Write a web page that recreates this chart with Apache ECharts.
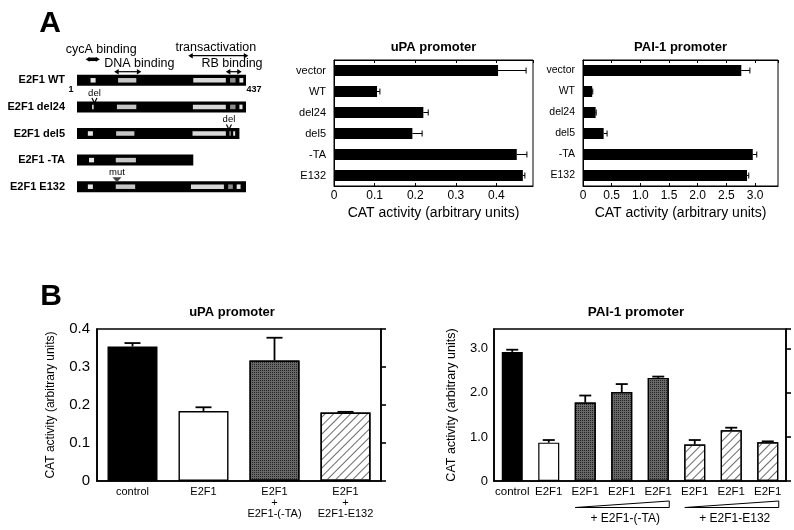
<!DOCTYPE html>
<html><head><meta charset="utf-8">
<script src="https://cdn.jsdelivr.net/npm/echarts@6/dist/echarts.min.js"></script>
<style>html,body{margin:0;padding:0;background:#fff}#c{width:794px;height:530px}</style>
</head><body><div id="c"></div>
<script>
const FONT = '"Liberation Sans", Arial, Helvetica, sans-serif';

// ---------- Panel A: construct schematic (amino-acid positions) ----------
const constructs = ['E2F1 WT', 'E2F1 del24', 'E2F1 del5', 'E2F1 -TA', 'E2F1 E132'];
const constructLength = [437, 437, 420, 301, 437];
const domainWT    = [[36, 49], [107, 154], [301, 385], [396, 410], [420, 430]];
const domainDel24 = [[40, 44], [104, 154], [300, 385], [396, 410], [420, 428]];
const domainDel5  = [[29, 42], [102, 149], [299, 385], [394, 398], [404, 409]];
const domainTA    = [[32, 45], [101, 153]];
const domainE132  = [[29, 42], [101, 151], [295, 380], [391, 403], [413, 423]];
const regionNames = ['cycA binding', 'DNA binding', 'transactivation', 'RB binding'];
const regionSpans = [[23, 60], [97, 167], [288, 443], [385, 426]];
const siteLabels = ['del', 'del', 'mut'];
const siteRows = [1, 2, 4];
const siteAA = [46, 393, 104];

// ---------- Panel A: CAT activity ----------
const aCategories = ['vector', 'WT', 'del24', 'del5', '-TA', 'E132'];
const aUpaValues = [0.404, 0.106, 0.220, 0.193, 0.450, 0.465];
const aUpaErrors = [0.069, 0.007, 0.012, 0.024, 0.025, 0.005];
const aPaiValues = [2.76, 0.16, 0.22, 0.36, 2.96, 2.86];
const aPaiErrors = [0.15, 0.01, 0.01, 0.06, 0.07, 0.03];

// ---------- Panel B ----------
const bUpaCategories = ['control', 'E2F1', 'E2F1\n+\nE2F1-(-TA)', 'E2F1\n+\nE2F1-E132'];
const bUpaValues = [0.354, 0.184, 0.317, 0.180];
const bUpaErrors = [0.009, 0.010, 0.060, 0.002];
const bPaiCategories = ['control', 'E2F1', 'E2F1', 'E2F1', 'E2F1', 'E2F1', 'E2F1', 'E2F1'];
const bPaiValues = [2.93, 0.87, 1.78, 2.02, 2.34, 0.83, 1.15, 0.88];
const bPaiErrors = [0.05, 0.06, 0.16, 0.18, 0.03, 0.10, 0.06, 0.02];
const bUpaKinds = ['solid', 'open', 'stipple', 'hatch'];
const bPaiKinds = ['solid', 'open', 'stipple', 'stipple', 'stipple', 'hatch', 'hatch', 'hatch'];
const bPaiGroupLabels = ['+ E2F1-(-TA)', '+ E2F1-E132'];
const bPaiGroupRange = [[2, 4], [5, 7]];

// ---------- styles ----------
const stippleDecal = {symbol: 'rect', symbolSize: 1, dashArrayX: [1, 1], dashArrayY: [1, 1], color: '#222'};
const hatchDecal = {symbol: 'rect', symbolSize: 1, dashArrayX: [1, 0], dashArrayY: [1, 5], rotation: -Math.PI / 4, color: '#6a6a6a'};
function barStyle(kind, bw) {
  const s = {borderColor: '#000', borderWidth: bw};
  if (kind === 'solid') s.color = '#000';
  else if (kind === 'open') s.color = '#fff';
  else if (kind === 'stipple') { s.color = '#686868'; s.decal = stippleDecal; }
  else { s.color = '#fff'; s.decal = hatchDecal; }
  return s;
}
const kindFill = ['#e6e6e6', '#c6c6c6', '#d8d8d8', '#8c8c8c', '#e6e6e6'];
function fmt(v) { return v === 0 ? '0' : v.toFixed(1); }

const domainSets = [domainWT, domainDel24, domainDel5, domainTA, domainE132];
const schematicData = [];
constructs.forEach((c, i) => {
  schematicData.push([i, 1, constructLength[i], -1]);
  domainSets[i].forEach((d, k) => schematicData.push([i, d[0], d[1], k]));
});

function schematicItem(params, api) {
  const row = api.value(0), s = api.value(1), e = api.value(2), k = api.value(3);
  const p0 = api.coord([s, row]), p1 = api.coord([e, row]);
  const h = k < 0 ? 11 : 4.5;
  return {type: 'rect', shape: {x: p0[0], y: p0[1] - h / 2, width: p1[0] - p0[0], height: h},
    style: {fill: k < 0 ? '#000' : kindFill[k]}};
}
function hErr(cap) {
  return function (params, api) {
    const v = api.value(0), i = api.value(1), e = api.value(2);
    const p0 = api.coord([v, i]), p1 = api.coord([v + e, i]);
    return {type: 'group', children: [
      {type: 'line', shape: {x1: p0[0], y1: p0[1], x2: p1[0], y2: p1[1]}, style: {stroke: '#000', lineWidth: 1}},
      {type: 'line', shape: {x1: p1[0], y1: p1[1] - cap, x2: p1[0], y2: p1[1] + cap}, style: {stroke: '#000', lineWidth: 1}}
    ]};
  };
}
function vErr(cap, lw) {
  return function (params, api) {
    const i = api.value(0), v = api.value(1), e = api.value(2);
    const p0 = api.coord([i, v]), p1 = api.coord([i, v + e]);
    return {type: 'group', children: [
      {type: 'line', shape: {x1: p0[0], y1: p0[1], x2: p1[0], y2: p1[1]}, style: {stroke: '#000', lineWidth: lw}},
      {type: 'line', shape: {x1: p1[0] - cap, y1: p1[1], x2: p1[0] + cap, y2: p1[1]}, style: {stroke: '#000', lineWidth: lw}}
    ]};
  };
}

const chart = echarts.init(document.getElementById('c'), null, {renderer: 'canvas', width: 794, height: 530});
const line1 = {show: true, lineStyle: {color: '#000', width: 1}};
const line2 = {show: true, lineStyle: {color: '#000', width: 1.6}};
const noLab = {show: false};

const option = {
  animation: false,
  backgroundColor: '#fff',
  textStyle: {fontFamily: FONT, color: '#000'},
  grid: [
    {left: 77, top: 67, width: 169, height: 133},
    {left: 334, top: 60, width: 199, height: 126, show: true, borderColor: '#000', borderWidth: 1, backgroundColor: 'transparent'},
    {left: 583, top: 60, width: 195, height: 126, show: true, borderColor: '#000', borderWidth: 1, backgroundColor: 'transparent'},
    {left: 97, top: 329, width: 284, height: 152, show: true, borderColor: '#000', borderWidth: 1.6, backgroundColor: 'transparent'},
    {left: 494, top: 329, width: 292, height: 152, show: true, borderColor: '#000', borderWidth: 1.6, backgroundColor: 'transparent'}
  ],
  xAxis: [
    {gridIndex: 0, type: 'value', min: 1, max: 437, show: false},
    {gridIndex: 1, type: 'value', min: 0, max: 0.49, interval: 0.1, position: 'bottom', axisLine: line1,
      axisTick: {show: true, inside: true, length: 3, lineStyle: {color: '#000'}}, splitLine: {show: false},
      axisLabel: {fontSize: 12, color: '#000', margin: 4, formatter: fmt, showMaxLabel: false},
      name: 'CAT activity (arbitrary units)', nameLocation: 'middle', nameGap: 20, nameTextStyle: {fontSize: 14, color: '#000'}},
    {gridIndex: 1, type: 'value', min: 0, max: 0.49, interval: 0.1, position: 'top', axisLine: line1,
      axisTick: {show: true, inside: true, length: 3, lineStyle: {color: '#000'}}, splitLine: {show: false}, axisLabel: noLab},
    {gridIndex: 2, type: 'value', min: 0, max: 3.4, interval: 0.5, position: 'bottom', axisLine: line1,
      axisTick: {show: true, inside: true, length: 3, lineStyle: {color: '#000'}}, splitLine: {show: false},
      axisLabel: {fontSize: 12, color: '#000', margin: 4, formatter: fmt, showMaxLabel: false},
      name: 'CAT activity (arbitrary units)', nameLocation: 'middle', nameGap: 20, nameTextStyle: {fontSize: 14, color: '#000'}},
    {gridIndex: 2, type: 'value', min: 0, max: 3.4, interval: 0.5, position: 'top', axisLine: line1,
      axisTick: {show: true, inside: true, length: 3, lineStyle: {color: '#000'}}, splitLine: {show: false}, axisLabel: noLab},
    {gridIndex: 3, type: 'category', data: bUpaCategories, axisLine: line2, axisTick: {show: false},
      axisLabel: {fontSize: 11, color: '#000', margin: 5, lineHeight: 11, interval: 0}},
    {gridIndex: 4, type: 'category', data: bPaiCategories, axisLine: line2, axisTick: {show: false},
      axisLabel: {fontSize: 11.5, color: '#000', margin: 5, interval: 0}}
  ],
  yAxis: [
    {gridIndex: 0, type: 'category', data: constructs, inverse: true, axisLine: {show: false}, axisTick: {show: false},
      axisLabel: {fontSize: 11, fontWeight: 'bold', color: '#000', margin: 12}},
    {gridIndex: 1, type: 'category', data: aCategories, inverse: true, axisLine: line1, axisTick: {show: false},
      axisLabel: {fontSize: 11, color: '#000', margin: 8}},
    {gridIndex: 2, type: 'category', data: aCategories, inverse: true, axisLine: line1, axisTick: {show: false},
      axisLabel: {fontSize: 10.5, color: '#000', margin: 8}},
    {gridIndex: 3, type: 'value', min: 0, max: 0.4, interval: 0.1, position: 'left', axisLine: line2,
      axisTick: {show: false}, splitLine: {show: false},
      axisLabel: {fontSize: 15, color: '#000', margin: 7, formatter: fmt},
      name: 'CAT activity (arbitrary units)', nameLocation: 'middle', nameRotate: 90, nameGap: 40, nameTextStyle: {fontSize: 12, color: '#000'}},
    {gridIndex: 3, type: 'value', min: 0, max: 0.4, interval: 0.1, position: 'right', axisLine: line2,
      axisTick: {show: true, inside: false, length: 5, lineStyle: {color: '#000', width: 1.6}}, splitLine: {show: false}, axisLabel: noLab},
    {gridIndex: 4, type: 'value', min: 0, max: 3.45, interval: 1, position: 'left', axisLine: line2,
      axisTick: {show: false}, splitLine: {show: false},
      axisLabel: {fontSize: 13, color: '#000', margin: 6, formatter: fmt, showMaxLabel: false},
      name: 'CAT activity (arbitrary units)', nameLocation: 'middle', nameRotate: 90, nameGap: 36, nameTextStyle: {fontSize: 12.5, color: '#000'}},
    {gridIndex: 4, type: 'value', min: 0, max: 3.45, interval: 1, position: 'right', axisLine: line2,
      axisTick: {show: true, inside: false, length: 5, lineStyle: {color: '#000', width: 1.6}}, splitLine: {show: false}, axisLabel: noLab}
  ],
  series: [
    {type: 'custom', xAxisIndex: 0, yAxisIndex: 0, renderItem: schematicItem, encode: {x: [1, 2], y: 0}, data: schematicData},
    {type: 'bar', xAxisIndex: 1, yAxisIndex: 1, barWidth: 11, itemStyle: {color: '#000'}, data: aUpaValues},
    {type: 'custom', xAxisIndex: 1, yAxisIndex: 1, z: 5, renderItem: hErr(3), encode: {x: 0, y: 1},
      data: aUpaValues.map((v, i) => [v, i, aUpaErrors[i]])},
    {type: 'bar', xAxisIndex: 3, yAxisIndex: 2, barWidth: 11, itemStyle: {color: '#000'}, data: aPaiValues},
    {type: 'custom', xAxisIndex: 3, yAxisIndex: 2, z: 5, renderItem: hErr(3), encode: {x: 0, y: 1},
      data: aPaiValues.map((v, i) => [v, i, aPaiErrors[i]])},
    {type: 'bar', xAxisIndex: 5, yAxisIndex: 3, barWidth: 50,
      data: bUpaValues.map((v, i) => ({value: v, itemStyle: barStyle(bUpaKinds[i], 1.4)}))},
    {type: 'custom', xAxisIndex: 5, yAxisIndex: 3, z: 5, renderItem: vErr(8, 1.8), encode: {x: 0, y: 1},
      data: bUpaValues.map((v, i) => [i, v, bUpaErrors[i]])},
    {type: 'bar', xAxisIndex: 6, yAxisIndex: 5, barWidth: 21,
      data: bPaiValues.map((v, i) => ({value: v, itemStyle: barStyle(bPaiKinds[i], 1.2)}))},
    {type: 'custom', xAxisIndex: 6, yAxisIndex: 5, z: 5, renderItem: vErr(6, 1.8), encode: {x: 0, y: 1},
      data: bPaiValues.map((v, i) => [i, v, bPaiErrors[i]])}
  ]
};
chart.setOption(option);

// ---------- annotations (placed through the axes) ----------
const g = [];
function T(text, x, y, size, bold, align) {
  g.push({type: 'text', z: 100, style: {text: text, x: x, y: y, fill: '#000',
    font: (bold ? 'bold ' : '') + size + 'px ' + FONT, textAlign: align || 'center', textVerticalAlign: 'middle'}});
}
function dblArrow(x1, x2, y, lw, head) {
  g.push({type: 'line', z: 100, shape: {x1: x1 + head, y1: y, x2: x2 - head, y2: y}, style: {stroke: '#000', lineWidth: lw}});
  g.push({type: 'polygon', z: 100, shape: {points: [[x1, y], [x1 + head + 1, y - head * 0.8], [x1 + head + 1, y + head * 0.8]]}, style: {fill: '#000'}});
  g.push({type: 'polygon', z: 100, shape: {points: [[x2, y], [x2 - head - 1, y - head * 0.8], [x2 - head - 1, y + head * 0.8]]}, style: {fill: '#000'}});
}
const P = (aa, row) => chart.convertToPixel({gridIndex: 0}, [aa, row]);

// panel letters and titles
T('A', 50, 24, 30, true);
T('B', 51, 297, 30, true);
T('uPA promoter', 433.5, 47, 13, true);
T('PAI-1 promoter', 680.5, 47, 13, true);
T('uPA promoter', 232, 312, 13, true);
T('PAI-1 promoter', 636, 312, 13.5, true);

// region labels and arrows over the WT construct
const textDx = [8.5, 11.5, -2.5, -1.8];
const textDy = [-31, -17, -32.5, -16.5];
const arrowDy = [-21, -8.6, -24.6, -8.6];
const arrowLw = [3.5, 1.2, 1.2, 1.2];
regionNames.forEach((name, k) => {
  const a = P(regionSpans[k][0], 0), b = P(regionSpans[k][1], 0);
  const mid = P((regionSpans[k][0] + regionSpans[k][1]) / 2, 0);
  T(name, mid[0] + textDx[k], mid[1] + textDy[k], 12.5, false);
  dblArrow(a[0], b[0], a[1] + arrowDy[k], arrowLw[k], k === 0 ? 3 : 3.5);
});
// N / C terminal numbers
const n1 = P(1, 0), c437 = P(437, 0);
T('1', n1[0] - 6, n1[1] + 9, 9, true);
T('437', c437[0] + 8, c437[1] + 9, 9, true);
// deletion / mutation sites
siteLabels.forEach((lab, k) => {
  const p = P(siteAA[k], siteRows[k]);
  T(lab, p[0], p[1] - 14, 9.5, false);
  if (lab === 'mut') {
    g.push({type: 'polygon', z: 100, shape: {points: [[p[0] - 4.5, p[1] - 9.5], [p[0] + 4.5, p[1] - 9.5], [p[0], p[1] - 4.5]]}, style: {fill: '#444'}});
  } else {
    g.push({type: 'polyline', z: 100, shape: {points: [[p[0] - 2.5, p[1] - 9], [p[0], p[1] - 4], [p[0] + 2.5, p[1] - 9]]}, style: {stroke: '#000', lineWidth: 1.2, fill: null}});
  }
});
// B PAI-1 dose wedges
const axisBottomY = chart.convertToPixel({yAxisIndex: 5}, 0);
bPaiGroupLabels.forEach((lab, k) => {
  const x0 = chart.convertToPixel({xAxisIndex: 6}, bPaiGroupRange[k][0]) - 10;
  const x1 = chart.convertToPixel({xAxisIndex: 6}, bPaiGroupRange[k][1]) + 11;
  const yb = axisBottomY + 26.5, yt = axisBottomY + 20;
  g.push({type: 'polygon', z: 100, shape: {points: [[x0, yb], [x1, yb], [x1, yt]]}, style: {stroke: '#000', lineWidth: 1, fill: null}});
  T(lab, (x0 + x1) / 2 + 3, axisBottomY + 38, 12, false);
});
chart.setOption({graphic: g});
</script>
</body></html>
